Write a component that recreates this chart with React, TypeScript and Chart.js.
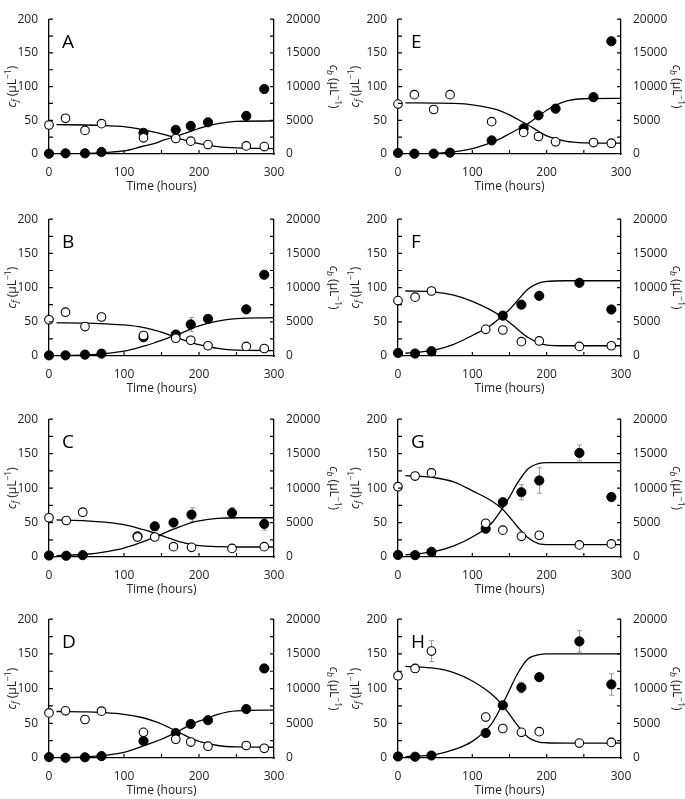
import React, { useEffect, useRef } from 'react';
import { Chart, registerables } from 'chart.js';

Chart.register(...registerables);

const FONT = '"Open Sans", "DejaVu Sans", sans-serif';

// ---------- data ----------
const timesABDE = [0, 22, 48, 70, 126, 169, 189, 212, 263, 287];
const timesCFGH = [0, 23, 45, 118, 141, 166, 190, 244, 287];
const fitTimes = [10, 50, 75, 100, 125, 140, 150, 160, 175, 190, 200, 225, 250, 300];

const xTickLabels = [0, 100, 200, 300];
const cfTickLabels = [0, 50, 100, 150, 200];
const cbTickLabels = [0, 5000, 10000, 15000, 20000];

// Panel A
const cfA = [43, 53, 35, 45, 24, 23, 19, 14, 12, 11];
const cbA = [50, 100, 100, 300, 3140, 3590, 4170, 4710, 5650, 9640];
const errCfA = [0, 0, 0, 0, 0, 0, 0, 0, 0, 0];
const errCbA = [0, 0, 0, 0, 0, 0, 0, 0, 0, 0];
const fitCfA = [43.5, 43, 42, 40.5, 36, 32.5, 30, 27, 22.5, 18, 15.5, 11, 9, 8];
const fitCbA = [10, 100, 250, 450, 1150, 1550, 1950, 2300, 2850, 3400, 3800, 4500, 4850, 4900];

// Panel B
const cfB = [53, 64, 43, 57, 30, 26, 23, 15, 14, 11];
const cbB = [100, 100, 200, 350, 2740, 3140, 4620, 5430, 6820, 11880];
const errCfB = [0, 0, 0, 0, 0, 0, 0, 0, 0, 0];
const errCbB = [0, 0, 0, 0, 0, 0, 1000, 0, 0, 0];
const fitCfB = [48.5, 48, 47, 45.5, 42, 38, 35, 31, 25, 19.5, 16.5, 11, 8.5, 8];
const fitCbB = [20, 150, 350, 700, 1400, 1900, 2300, 2700, 3300, 4000, 4400, 5100, 5450, 5600];

// Panel C
const cfC = [57, 53, 65, 29, 29, 15, 14, 12.5, 15];
const cbC = [220, 180, 270, 3000, 4450, 5000, 6150, 6400, 4800];
const errCfC = [0, 0, 0, 4, 0, 0, 0, 0, 0];
const errCbC = [0, 0, 0, 0, 600, 0, 1000, 800, 900];
const fitCfC = [54, 52.5, 50.5, 47, 40, 35, 31, 27.5, 22, 18, 16.5, 15, 14.5, 14.5];
const fitCbC = [200, 400, 750, 1300, 2200, 2800, 3300, 3800, 4400, 5000, 5250, 5600, 5700, 5700];

// Panel D
const cfD = [65, 68, 55.5, 67.5, 37, 27, 23, 17, 18, 14];
const cbD = [130, 30, 100, 270, 2450, 3600, 4900, 5450, 7050, 12900];
const errCfD = [0, 0, 0, 4, 0, 0, 0, 0, 0, 0];
const errCbD = [0, 0, 0, 0, 0, 0, 0, 0, 0, 0];
const fitCfD = [67, 66.5, 65.5, 63, 58, 53, 49, 44, 36, 28, 24, 18, 16, 15.5];
const fitCbD = [30, 150, 400, 800, 1700, 2300, 2700, 3200, 4000, 4900, 5300, 6300, 6800, 6900];

// Panel E
const cfE = [74, 88, 66, 88, 48, 32, 26, 18, 17, 16];
const cbE = [150, 50, 50, 200, 2020, 3810, 5740, 6730, 8430, 16730];
const errCfE = [0, 0, 0, 0, 0, 0, 0, 0, 0, 0];
const errCbE = [0, 0, 0, 0, 0, 0, 0, 0, 0, 500];
const fitCfE = [76, 75.5, 75, 73, 68, 63, 58, 52, 43, 33, 27, 19, 16.5, 16];
const fitCbE = [0, 100, 300, 800, 1700, 2400, 3000, 3600, 4500, 5700, 6500, 7800, 8200, 8250];

// Panel F
const cfF = [81, 86, 95, 39, 38, 21, 22, 14, 15];
const cbF = [450, 360, 700, null, 5900, 7500, 8800, 10700, 6800];
const errCfF = [0, 0, 0, 0, 0, 0, 0, 0, 0];
const errCbF = [0, 0, 0, 0, 0, 0, 0, 0, 0];
const fitCfF = [95, 93.5, 89, 80, 67, 57, 49, 40, 27, 19, 16, 15, 15, 15];
const fitCbF = [400, 900, 1700, 3000, 4500, 5800, 6800, 8000, 9800, 10700, 10900, 11000, 11000, 11000];

// Panel G
const cfG = [102, 117.5, 122, 49, 39, 30, 31.5, 17.5, 19];
const cbG = [300, 270, 760, 4100, 7950, 9400, 11100, 15100, 8700];
const errCfG = [0, 0, 0, 0, 0, 0, 0, 0, 0];
const errCbG = [0, 0, 0, 0, 0, 1100, 1850, 1150, 0];
const fitCfG = [118, 115, 109, 96, 82, 70, 58, 45, 28, 19, 18, 18, 18, 18];
const fitCbG = [300, 800, 1600, 2900, 4800, 7000, 8700, 10600, 12800, 13600, 13700, 13700, 13700, 13700];

// Panel H
const cfH = [118.5, 129, 154, 59, 42.5, 37, 38, 21.5, 22.5];
const cbH = [220, 180, 360, 3600, 7600, 10150, 11650, 16800, 10600];
const errCfH = [0, 0, 15, 0, 0, 0, 0, 0, 6];
const errCbH = [0, 0, 0, 0, 0, 750, 0, 1550, 1550];
const fitCfH = [132, 129, 123, 111, 93, 77, 63, 48, 30, 23, 22, 21.5, 21.5, 21.5];
const fitCbH = [200, 500, 1200, 2400, 4800, 7600, 9800, 12000, 14300, 14900, 15000, 15000, 15000, 15000];

type PanelDef = {
  letter: string; col: number; row: number;
  times: number[]; cf: (number | null)[]; cb: (number | null)[];
  errCf: number[]; errCb: number[]; fitCf: number[]; fitCb: number[];
};

const panels: PanelDef[] = [
  { letter: 'A', col: 0, row: 0, times: timesABDE, cf: cfA, cb: cbA, errCf: errCfA, errCb: errCbA, fitCf: fitCfA, fitCb: fitCbA },
  { letter: 'B', col: 0, row: 1, times: timesABDE, cf: cfB, cb: cbB, errCf: errCfB, errCb: errCbB, fitCf: fitCfB, fitCb: fitCbB },
  { letter: 'C', col: 0, row: 2, times: timesCFGH, cf: cfC, cb: cbC, errCf: errCfC, errCb: errCbC, fitCf: fitCfC, fitCb: fitCbC },
  { letter: 'D', col: 0, row: 3, times: timesABDE, cf: cfD, cb: cbD, errCf: errCfD, errCb: errCbD, fitCf: fitCfD, fitCb: fitCbD },
  { letter: 'E', col: 1, row: 0, times: timesABDE, cf: cfE, cb: cbE, errCf: errCfE, errCb: errCbE, fitCf: fitCfE, fitCb: fitCbE },
  { letter: 'F', col: 1, row: 1, times: timesCFGH, cf: cfF, cb: cbF, errCf: errCfF, errCb: errCbF, fitCf: fitCfF, fitCb: fitCbF },
  { letter: 'G', col: 1, row: 2, times: timesCFGH, cf: cfG, cb: cbG, errCf: errCfG, errCb: errCbG, fitCf: fitCfG, fitCb: fitCbG },
  { letter: 'H', col: 1, row: 3, times: timesCFGH, cf: cfH, cb: cbH, errCf: errCfH, errCb: errCbH, fitCf: fitCfH, fitCb: fitCbH },
];

// ---------- layout ----------
const W = 342;
const colX = [0, 343];
const rowY = [0, 200, 400, 600];
const areaL = [49, 55];
const areaR = [274, 278];
const areaT = [6, 7, 7, 9];
const areaB = [154, 156, 157, 158];

type Seg = { text: string; font: string; dy?: number };

function richText(ctx: CanvasRenderingContext2D, segs: Seg[], cx: number, cy: number, angle: number) {
  ctx.save();
  ctx.translate(cx, cy);
  ctx.rotate(angle);
  ctx.textAlign = 'left';
  ctx.textBaseline = 'alphabetic';
  ctx.fillStyle = '#222';
  let total = 0;
  segs.forEach((s) => { ctx.font = s.font; total += ctx.measureText(s.text).width; });
  let x = -total / 2;
  segs.forEach((s) => {
    ctx.font = s.font;
    ctx.fillText(s.text, x, 4 + (s.dy || 0));
    x += ctx.measureText(s.text).width;
  });
  ctx.restore();
}

function Panel({ p }: { p: PanelDef }) {
  const ref = useRef<HTMLCanvasElement>(null);
  const H = p.row === 3 ? 199 : 200;
  useEffect(() => {
    const L = areaL[p.col], R = areaR[p.col], T = areaT[p.row], B = areaB[p.row];
    const decor = {
      id: 'decor',
      beforeDatasetsDraw(chart: any) {
        const ctx = chart.ctx as CanvasRenderingContext2D;
        const xs = chart.scales.x, y1 = chart.scales.y, y2 = chart.scales.y2;
        ctx.save();
        ctx.strokeStyle = '#9a9a9a';
        ctx.lineWidth = 1;
        const bar = (t: number, v: number | null, e: number, ys: any) => {
          if (!e || v == null) return;
          const px = Math.round(xs.getPixelForValue(t)) + 0.5;
          const a = ys.getPixelForValue(v - e), b = ys.getPixelForValue(v + e);
          ctx.beginPath();
          ctx.moveTo(px, a); ctx.lineTo(px, b);
          ctx.moveTo(px - 2.5, a); ctx.lineTo(px + 2.5, a);
          ctx.moveTo(px - 2.5, b); ctx.lineTo(px + 2.5, b);
          ctx.stroke();
        };
        p.times.forEach((t, i) => {
          bar(t, p.cf[i], p.errCf[i], y1);
          bar(t, p.cb[i], p.errCb[i], y2);
        });
        ctx.restore();
      },
      afterDraw(chart: any) {
        const ctx = chart.ctx as CanvasRenderingContext2D;
        const { left, right, top, bottom } = chart.chartArea;
        const xs = chart.scales.x, y1 = chart.scales.y, y2 = chart.scales.y2;
        ctx.save();
        ctx.strokeStyle = '#000';
        ctx.lineWidth = 1.2;
        ctx.beginPath();
        for (let v = 50; v < 300; v += 50) {
          const px = xs.getPixelForValue(v);
          ctx.moveTo(px, bottom); ctx.lineTo(px, bottom - 4);
        }
        for (let v = 25; v <= 200; v += 25) {
          const py = y1.getPixelForValue(v);
          ctx.moveTo(left, py); ctx.lineTo(left + 4, py);
        }
        for (let v = 2500; v <= 20000; v += 2500) {
          const py = y2.getPixelForValue(v);
          ctx.moveTo(right, py); ctx.lineTo(right - 4, py);
        }
        ctx.stroke();
        ctx.restore();

        const mid = (top + bottom) / 2;
        richText(ctx, [
          { text: 'c', font: `italic 12px ${FONT}` },
          { text: 'f', font: `italic 8.5px ${FONT}`, dy: 2.5 },
          { text: ' (\u03bcL', font: `12px ${FONT}` },
          { text: '\u22121', font: `8.5px ${FONT}`, dy: -5 },
          { text: ')', font: `12px ${FONT}` },
        ], 11.5, mid, -Math.PI / 2);
        richText(ctx, [
          { text: 'c', font: `italic 12px ${FONT}` },
          { text: 'b', font: `italic 8.5px ${FONT}`, dy: 2.5 },
          { text: ' (\u03bcL', font: `12px ${FONT}` },
          { text: '\u22121', font: `8.5px ${FONT}`, dy: -5 },
          { text: ')', font: `12px ${FONT}` },
        ], 333.5, mid, Math.PI / 2);

        ctx.save();
        ctx.fillStyle = '#222';
        ctx.font = `12px ${FONT}`;
        ctx.textAlign = 'center';
        ctx.textBaseline = 'middle';
        ctx.fillText('Time (hours)', (left + right) / 2, bottom + 33);
        ctx.font = `19px ${FONT}`;
        ctx.textAlign = 'left';
        ctx.textBaseline = 'alphabetic';
        ctx.fillStyle = '#000';
        ctx.fillText(p.letter, left + 13, top + 29);
        ctx.restore();
      },
    };

    const tickFont = { family: FONT, size: 12 };
    const chart = new Chart(ref.current as HTMLCanvasElement, {
      type: 'line',
      data: {
        datasets: [
          {
            label: 'cf',
            data: p.times.map((t, i) => ({ x: t, y: p.cf[i] })).filter((d) => d.y != null) as any,
            yAxisID: 'y', showLine: false, clip: false as any,
            pointRadius: 4.3, pointBackgroundColor: '#fff', pointBorderColor: '#000', pointBorderWidth: 1.1,
          },
          {
            label: 'cb',
            data: p.times.map((t, i) => ({ x: t, y: p.cb[i] })).filter((d) => d.y != null) as any,
            yAxisID: 'y2', showLine: false, clip: false as any,
            pointRadius: 4.6, pointBackgroundColor: '#000', pointBorderColor: '#000', pointBorderWidth: 1,
          },
          {
            label: 'fit cf',
            data: fitTimes.map((t, i) => ({ x: t, y: p.fitCf[i] })) as any,
            yAxisID: 'y', pointRadius: 0, borderColor: '#000', borderWidth: 1.3,
            cubicInterpolationMode: 'monotone', fill: false,
          },
          {
            label: 'fit cb',
            data: fitTimes.map((t, i) => ({ x: t, y: p.fitCb[i] })) as any,
            yAxisID: 'y2', pointRadius: 0, borderColor: '#000', borderWidth: 1.3,
            cubicInterpolationMode: 'monotone', fill: false,
          },
        ],
      },
      options: {
        animation: false,
        responsive: false,
        devicePixelRatio: 1,
        events: [],
        layout: { padding: { top: T, left: 0, right: 0, bottom: 0 } },
        plugins: { legend: { display: false }, tooltip: { enabled: false } },
        scales: {
          x: {
            type: 'linear', min: 0, max: 300,
            grid: { display: false, drawTicks: false },
            border: { display: true, color: '#000', width: 1.3 },
            ticks: { font: tickFont, color: '#222', padding: 11, maxRotation: 0 },
            afterBuildTicks: (s: any) => { s.ticks = xTickLabels.map((v) => ({ value: v })); },
            afterFit: (s: any) => { s.height = H - B; },
          },
          y: {
            type: 'linear', position: 'left', min: 0, max: 200,
            grid: { display: false, drawTicks: false },
            border: { display: true, color: '#000', width: 1.3 },
            ticks: { font: tickFont, color: '#222', padding: 11 },
            afterBuildTicks: (s: any) => { s.ticks = cfTickLabels.map((v) => ({ value: v })); },
            afterFit: (s: any) => { s.width = L; },
          },
          y2: {
            type: 'linear', position: 'right', min: 0, max: 20000,
            grid: { display: false, drawTicks: false },
            border: { display: true, color: '#000', width: 1.3 },
            ticks: { font: tickFont, color: '#222', padding: 12, callback: (v: any) => String(v) },
            afterBuildTicks: (s: any) => { s.ticks = cbTickLabels.map((v) => ({ value: v })); },
            afterFit: (s: any) => { s.width = W - R; },
          },
        },
      } as any,
      plugins: [decor],
    });
    return () => chart.destroy();
  }, [p, H]);

  return (
    <div style={{ position: 'absolute', left: colX[p.col], top: rowY[p.row], width: W, height: H }}>
      <canvas ref={ref} width={W} height={H} style={{ width: W, height: H, display: 'block' }} />
    </div>
  );
}

export default function App() {
  return (
    <div style={{ position: 'fixed', left: 0, top: 0, width: 685, height: 799, background: '#fff', overflow: 'hidden' }}>
      {panels.map((p) => <Panel key={p.letter} p={p} />)}
    </div>
  );
}
